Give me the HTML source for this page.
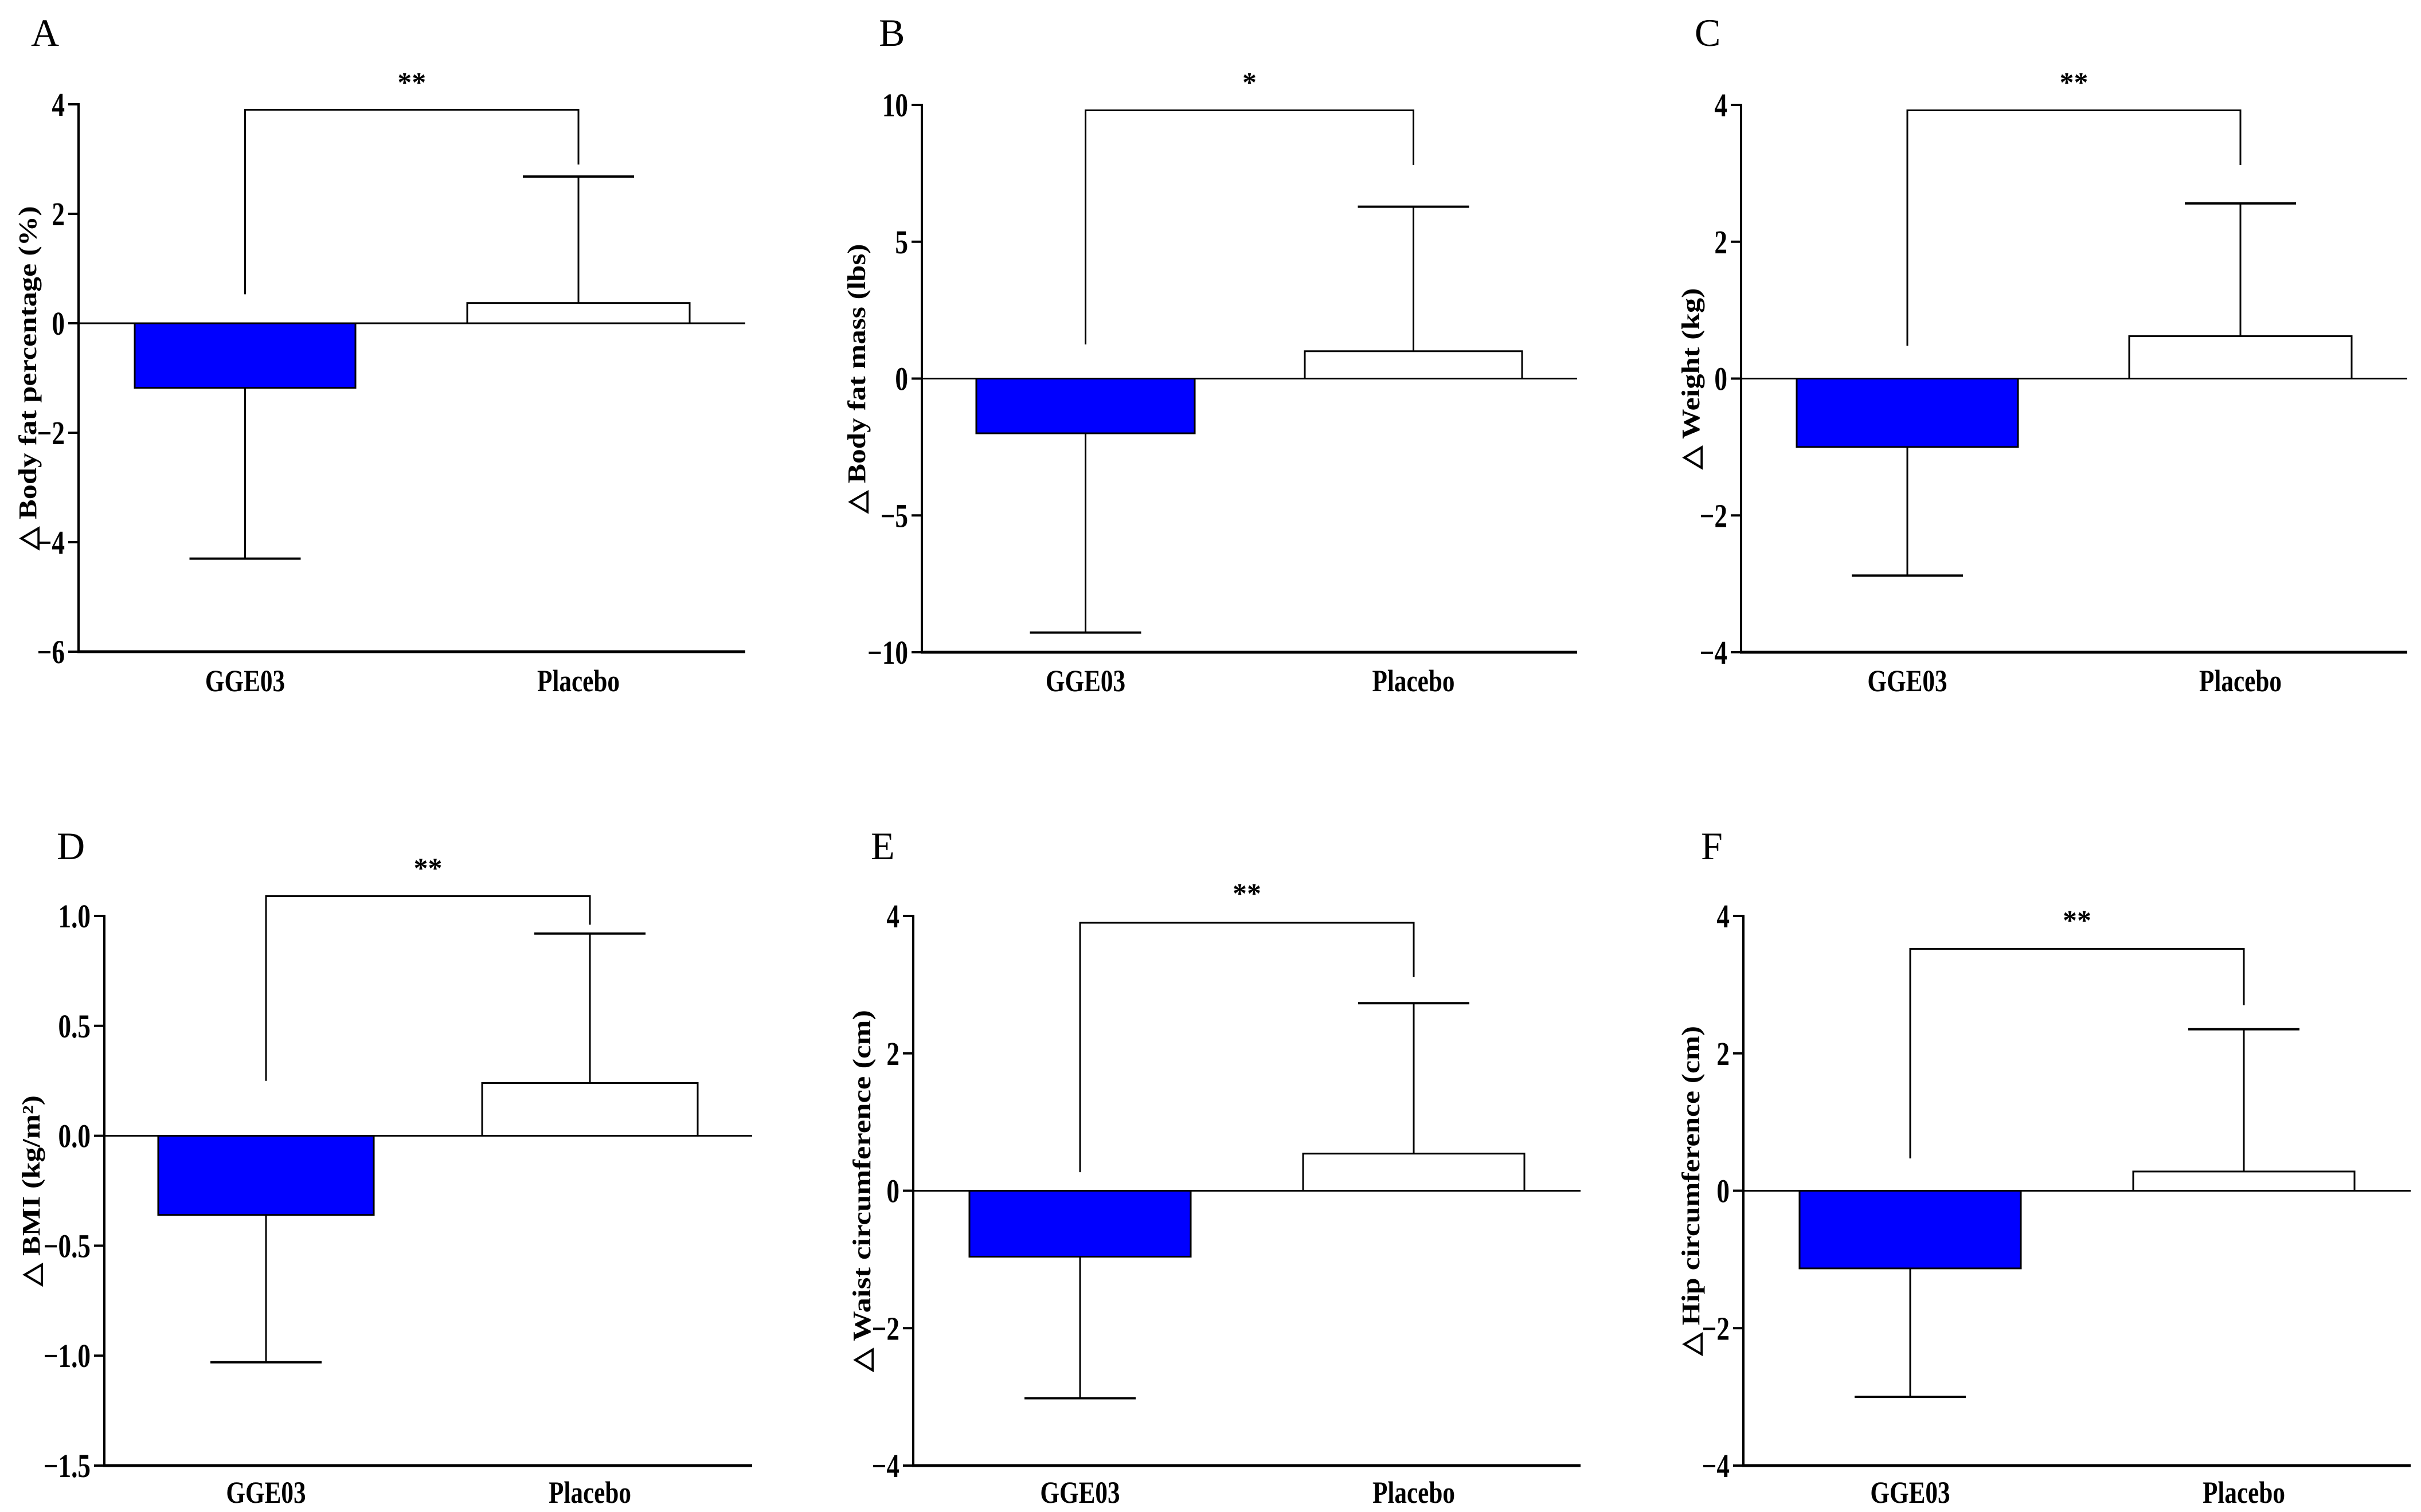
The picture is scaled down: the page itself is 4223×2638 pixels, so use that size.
<!DOCTYPE html>
<html><head><meta charset="utf-8"><style>
html,body{margin:0;padding:0;background:#fff;}
svg{display:block;}
text{font-family:"Liberation Serif",serif;}
</style></head><body>
<svg id="fig" width="4223" height="2638" viewBox="0 0 4223 2638" xmlns="http://www.w3.org/2000/svg"></svg>
<script>
// ---- data ----
const categories = ["GGE03", "Placebo"];
const panelLetters = ["A", "B", "C", "D", "E", "F"];
const yTitles = ["△ Body fat percentage (%)", "△ Body fat mass (lbs)", "△ Weight (kg)", "△ BMI (kg/m²)", "△ Waist circumference (cm)", "△ Hip circumference (cm)"];
const gge03Means = [-1.18, -2.0, -1.0, -0.36, -0.96, -1.13];
const gge03ErrEnds = [-4.3, -9.28, -2.88, -1.03, -3.02, -3.0];
const placeboMeans = [0.37, 1.0, 0.62, 0.24, 0.54, 0.28];
const placeboErrEnds = [2.68, 6.28, 2.56, 0.92, 2.73, 2.35];
const bracketTops = [3.9, 9.8, 3.92, 1.09, 3.9, 3.52];
const bracketLeftEnds = [0.53, 1.25, 0.48, 0.25, 0.27, 0.47];
const bracketRightEnds = [2.9, 7.8, 3.12, 0.96, 3.11, 2.7];
const sigLabels = ["**", "*", "**", "**", "**", "**"];
const yMins = [-6, -10, -4, -1.5, -4, -4];
const yMaxs = [4, 10, 4, 1.0, 4, 4];
const tickLabelsA = ["4", "2", "0", "−2", "−4", "−6"];
const tickLabelsB = ["10", "5", "0", "−5", "−10"];
const tickLabelsC = ["4", "2", "0", "−2", "−4"];
const tickLabelsD = ["1.0", "0.5", "0.0", "−0.5", "−1.0", "−1.5"];
const tickLabelsE = ["4", "2", "0", "−2", "−4"];
const tickLabelsF = ["4", "2", "0", "−2", "−4"];
const tickValuesA = [4, 2, 0, -2, -4, -6];
const tickValuesB = [10, 5, 0, -5, -10];
const tickValuesC = [4, 2, 0, -2, -4];
const tickValuesD = [1.0, 0.5, 0.0, -0.5, -1.0, -1.5];
const tickValuesE = [4, 2, 0, -2, -4];
const tickValuesF = [4, 2, 0, -2, -4];
const tickLabels = [tickLabelsA, tickLabelsB, tickLabelsC, tickLabelsD, tickLabelsE, tickLabelsF];
const tickValues = [tickValuesA, tickValuesB, tickValuesC, tickValuesD, tickValuesE, tickValuesF];

// ---- layout (pixels) ----
const layout = [
  {ax:137, right:1300, top:182, bot:1137, b1:[235,620], b2:[815,1203], letterX:54, letterY:80, titleX:48, titleLen:600, catY:1206, sigY:142},
  {ax:1608, right:2751, top:183, bot:1138, b1:[1703,2084], b2:[2276,2655], letterX:1533, letterY:80, titleX:1494, titleLen:470, catY:1206, sigY:142},
  {ax:3037, right:4199, top:183, bot:1138, b1:[3134,3520], b2:[3714,4102], letterX:2956, letterY:80, titleX:2949, titleLen:316, catY:1206, sigY:142},
  {ax:182, right:1312, top:1598, bot:2557, b1:[276,652], b2:[841,1217], letterX:99, letterY:1499, titleX:54, titleLen:333, catY:2622, sigY:1513},
  {ax:1593, right:2757, top:1598, bot:2557, b1:[1691,2077], b2:[2273,2659], letterX:1519, letterY:1499, titleX:1503, titleLen:631, catY:2622, sigY:1557},
  {ax:3041, right:4205, top:1598, bot:2557, b1:[3139,3525], b2:[3721,4107], letterX:2967, letterY:1499, titleX:2949, titleLen:575, catY:2622, sigY:1604}
];

const NS = "http://www.w3.org/2000/svg";
const svg = document.getElementById("fig");
function mk(tag, attrs, parent) {
  const e = document.createElementNS(NS, tag);
  for (const k in attrs) e.setAttribute(k, attrs[k]);
  (parent || svg).appendChild(e);
  return e;
}

for (let p = 0; p < 6; p++) {
  const L = layout[p];
  const g = mk("g", {});
  
  
  const y = v => L.bot - (v - yMins[p]) / (yMaxs[p] - yMins[p]) * (L.bot - L.top);
  const y0 = y(0);

  const lt = mk("text", {x: L.letterX, y: L.letterY, "font-size": 68}, g);
  lt.textContent = panelLetters[p];
  
  

  const ax = mk("line", {x1: L.ax, y1: L.top - 2, x2: L.ax, y2: L.bot, stroke: "#000", "stroke-width": 4}, g);
  
  
  const bx = mk("line", {x1: L.ax - 2, y1: L.bot, x2: L.right, y2: L.bot, stroke: "#000", "stroke-width": 5}, g);
  
  

  for (let i = 0; i < tickValues[p].length; i++) {
    const ty = y(tickValues[p][i]);
    const tk = mk("line", {x1: L.ax - 18, y1: ty, x2: L.ax, y2: ty, stroke: "#000", "stroke-width": 4}, g);
    
    
    const tl = mk("text", {x: 0, y: 0, "font-size": 58, "font-weight": "bold", "text-anchor": "end",
      transform: "translate(" + (L.ax - 24) + "," + (ty + 20) + ") scale(0.78,1)"}, g);
    tl.textContent = tickLabels[p][i];
    
    
  }

  const cy = (L.top + L.bot) / 2;
  const tt = mk("text", {x: L.titleX, y: cy, "font-size": 44, "font-weight": "bold", "text-anchor": "middle",
    transform: "rotate(-90 " + L.titleX + " " + cy + ")", dy: 15, textLength: L.titleLen, lengthAdjust: "spacingAndGlyphs"}, g);
  tt.textContent = yTitles[p];
  
  

  const c1 = (L.b1[0] + L.b1[1]) / 2, c2 = (L.b2[0] + L.b2[1]) / 2;
  const m1 = y(gge03Means[p]), m2 = y(placeboMeans[p]);
  const e1 = mk("line", {x1: c1, y1: m1, x2: c1, y2: y(gge03ErrEnds[p]), stroke: "#000", "stroke-width": 3}, g);
  
  
  const cap1 = mk("line", {x1: c1 - 97, y1: y(gge03ErrEnds[p]), x2: c1 + 97, y2: y(gge03ErrEnds[p]), stroke: "#000", "stroke-width": 4}, g);
  
  
  const e2 = mk("line", {x1: c2, y1: m2, x2: c2, y2: y(placeboErrEnds[p]), stroke: "#000", "stroke-width": 3}, g);
  
  
  const cap2 = mk("line", {x1: c2 - 97, y1: y(placeboErrEnds[p]), x2: c2 + 97, y2: y(placeboErrEnds[p]), stroke: "#000", "stroke-width": 4}, g);
  
  

  const r1 = mk("rect", {x: L.b1[0], y: Math.min(y0, m1), width: L.b1[1] - L.b1[0], height: Math.abs(m1 - y0), fill: "#0000ff", stroke: "#000", "stroke-width": 3}, g);
  
  
  const r2 = mk("rect", {x: L.b2[0], y: Math.min(y0, m2), width: L.b2[1] - L.b2[0], height: Math.abs(m2 - y0), fill: "#fff", stroke: "#000", "stroke-width": 3}, g);
  
  

  const zl = mk("line", {x1: L.ax, y1: y0, x2: L.right, y2: y0, stroke: "#000", "stroke-width": 3}, g);
  
  

  const bt = y(bracketTops[p]);
  const br = mk("polyline", {points: c1 + "," + y(bracketLeftEnds[p]) + " " + c1 + "," + bt + " " + c2 + "," + bt + " " + c2 + "," + y(bracketRightEnds[p]),
    fill: "none", stroke: "#000", "stroke-width": 3}, g);
  
  
  const sg = mk("text", {x: (c1 + c2) / 2, y: L.sigY + 18, "font-size": 50, "font-weight": "bold", "text-anchor": "middle"}, g);
  sg.textContent = sigLabels[p];
  
  

  const cx = [c1, c2];
  for (let i = 0; i < 2; i++) {
    const cl = mk("text", {x: 0, y: 0, "font-size": 54, "font-weight": "bold", "text-anchor": "middle",
      transform: "translate(" + cx[i] + "," + L.catY + ") scale(0.8,1)"}, g);
    cl.textContent = categories[i];
    
    
  }
}
</script>
</body></html>
